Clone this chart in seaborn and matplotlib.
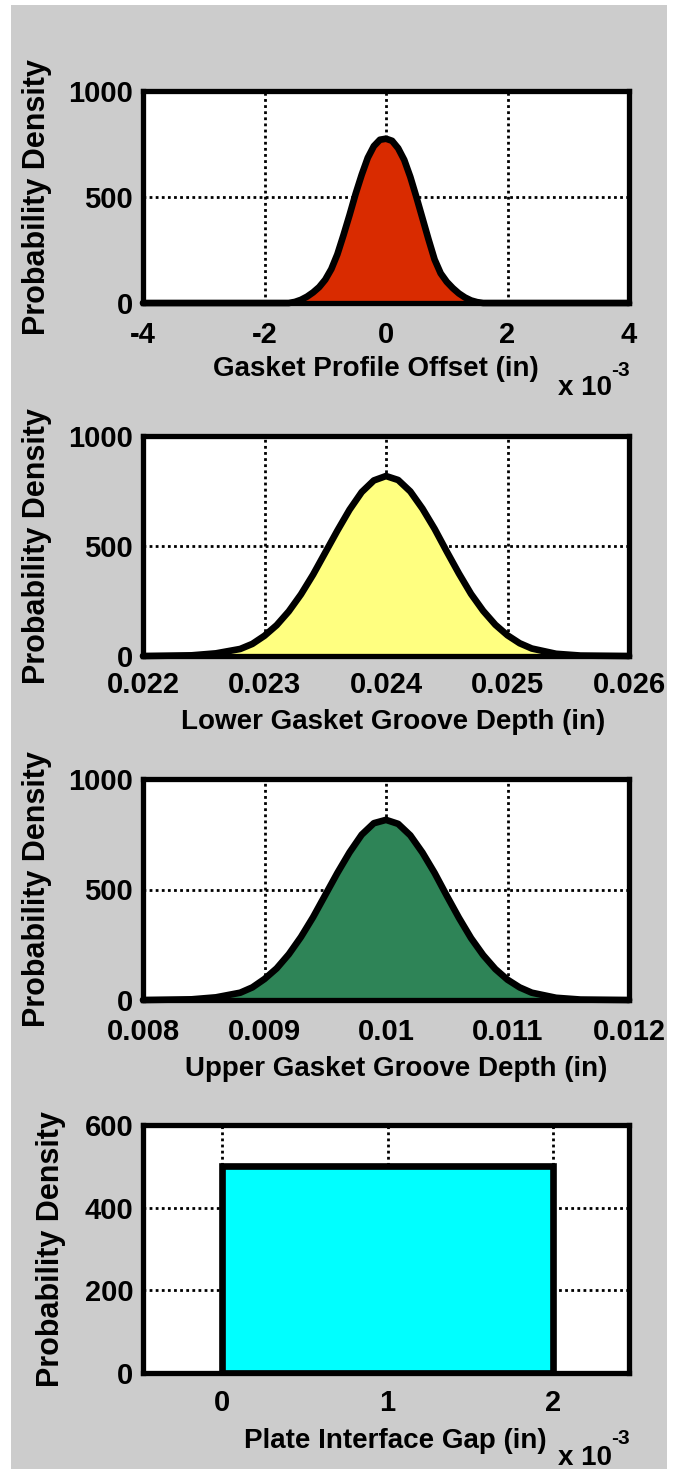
import numpy as np
import pandas as pd
import matplotlib
matplotlib.use("Agg")
import matplotlib.pyplot as plt
import seaborn as sns
from matplotlib.patches import Rectangle

# ---------------- data ----------------
offset_x = [-4.0, -1.6, -1.5, -1.4, -1.3, -1.2, -1.1, -1.0, -0.9, -0.8, -0.7, -0.6, -0.5,
            -0.4, -0.3, -0.2, -0.1, 0.0, 0.1, 0.2, 0.3, 0.4, 0.5, 0.6, 0.7, 0.8, 0.9,
            1.0, 1.1, 1.2, 1.3, 1.4, 1.5, 1.6, 4.0]          # x 10^-3 in
offset_pdf = [0, 0, 5, 15, 30, 50, 75, 110, 160, 230, 320, 415, 515,
              605, 685, 740, 770, 775, 765, 730, 675, 595, 500, 400, 300, 205, 140,
              100, 70, 45, 26, 12, 4, 0, 0]

lower_x = [0.0220, 0.0224, 0.0226, 0.0228, 0.0229, 0.0230, 0.0231, 0.0232, 0.0233, 0.0234,
           0.0235, 0.0236, 0.0237, 0.0238, 0.0239, 0.0240, 0.0241, 0.0242, 0.0243, 0.0244,
           0.0245, 0.0246, 0.0247, 0.0248, 0.0249, 0.0250, 0.0251, 0.0252, 0.0254, 0.0256,
           0.0260]
lower_pdf = [0, 3, 12, 32, 55, 92, 140, 203, 280, 370,
             470, 570, 665, 745, 798, 818, 800, 748, 670, 578,
             475, 375, 282, 205, 142, 94, 58, 34, 10, 2,
             0]

upper_x = [0.0080, 0.0084, 0.0086, 0.0088, 0.0089, 0.0090, 0.0091, 0.0092, 0.0093, 0.0094,
           0.0095, 0.0096, 0.0097, 0.0098, 0.0099, 0.0100, 0.0101, 0.0102, 0.0103, 0.0104,
           0.0105, 0.0106, 0.0107, 0.0108, 0.0109, 0.0110, 0.0111, 0.0112, 0.0114, 0.0116,
           0.0120]
upper_pdf = [0, 3, 12, 33, 57, 95, 143, 207, 285, 375,
             475, 575, 668, 748, 800, 815, 797, 745, 667, 575,
             472, 372, 280, 203, 140, 92, 57, 33, 10, 2,
             0]

gap_left = [0.0]      # x 10^-3 in
gap_width = [2.0]
gap_pdf = [500]

x_labels = ["Gasket Profile Offset (in)", "Lower Gasket Groove Depth (in)",
            "Upper Gasket Groove Depth (in)", "Plate Interface Gap (in)"]
y_label = "Probability Density"
xticks_1 = [-4, -2, 0, 2, 4]
xticks_2 = [0.022, 0.023, 0.024, 0.025, 0.026]
xticklabels_2 = ["0.022", "0.023", "0.024", "0.025", "0.026"]
xticks_3 = [0.008, 0.009, 0.010, 0.011, 0.012]
xticklabels_3 = ["0.008", "0.009", "0.01", "0.011", "0.012"]
xticks_4 = [0, 1, 2]
yticks_a = [0, 500, 1000]
yticks_b = [0, 200, 400, 600]

colors = ["#D92B00", "#FFFF80", "#2E8457", "#00FFFF"]

# ---------------- style ----------------
sns.set_style("white")
plt.rcParams["font.family"] = ["Liberation Sans", "DejaVu Sans"]
plt.rcParams["font.weight"] = "bold"
plt.rcParams["axes.unicode_minus"] = False
plt.rcParams["text.color"] = "black"
plt.rcParams["axes.labelcolor"] = "black"
plt.rcParams["xtick.color"] = "black"
plt.rcParams["ytick.color"] = "black"

W, H = 676, 1469
fig = plt.figure(figsize=(W / 100, H / 100), dpi=100, facecolor="white")
fig.patches.append(Rectangle((11 / W, 0), 656 / W, (H - 5) / H, transform=fig.transFigure,
                             facecolor="#CCCCCC", edgecolor="none", zorder=-10))

L, R = 143, 629
def add_ax(top, bottom):
    return fig.add_axes([L / W, 1 - bottom / H, (R - L) / W, (bottom - top) / H])

ax1 = add_ax(91, 303)
ax2 = add_ax(436, 656)
ax3 = add_ax(779, 1000)
ax4 = add_ax(1125, 1373)

TICK_FS = 21
LAB_FS = 20
YLAB_FS = 22
LW = 4.8

def style(ax, xlim, ylim, xticks, yticks, xticklabels=None, xpad=13):
    ax.set_facecolor("white")
    ax.set_xlim(*xlim)
    ax.set_ylim(*ylim)
    ax.set_xticks(xticks)
    ax.set_yticks(yticks)
    if xticklabels is not None:
        ax.set_xticklabels(xticklabels)
    ax.set_axisbelow(True)
    ax.grid(True, color="black", linestyle=(0, (1, 1.2)), linewidth=2.0)
    for s in ax.spines.values():
        s.set_visible(True)
        s.set_color("black")
        s.set_linewidth(3.8)
        s.set_zorder(5)
    ax.tick_params(axis="x", length=0, pad=xpad, labelsize=TICK_FS, labelcolor="black")
    ax.tick_params(axis="y", length=0, pad=7, labelsize=TICK_FS, labelcolor="black")
    for t in ax.get_xticklabels() + ax.get_yticklabels():
        t.set_fontweight("bold")

def density(ax, xs, ys, color):
    ax.fill_between(xs, ys, 0, color=color, linewidth=0, zorder=1)
    sns.lineplot(x=xs, y=ys, ax=ax, color="black", linewidth=LW, sort=False,
                 solid_joinstyle="round", solid_capstyle="round", zorder=2, clip_on=False)

density(ax1, offset_x, offset_pdf, colors[0])
style(ax1, (-4, 4), (0, 1000), xticks_1, yticks_a, xpad=13)

density(ax2, lower_x, lower_pdf, colors[1])
style(ax2, (0.022, 0.026), (0, 1000), xticks_2, yticks_a, xticklabels_2, xpad=10.5)

density(ax3, upper_x, upper_pdf, colors[2])
style(ax3, (0.008, 0.012), (0, 1000), xticks_3, yticks_a, xticklabels_3, xpad=13)

ax4.bar(gap_left, gap_pdf, width=gap_width, align="edge", color=colors[3],
        edgecolor="black", linewidth=LW, zorder=2)
style(ax4, (-0.48, 2.46), (0, 600), xticks_4, yticks_b, xpad=11.5)

# axis labels
label_pos = [  # (xlabel center x, xlabel top y, ylabel right x) in axes coords
    (ax1, 0.479, -0.252, -0.188),
    (ax2, 0.515, -0.243, -0.188),
    (ax3, 0.52, -0.255, -0.188),
    (ax4, 0.52, -0.22, -0.158),
]
for (ax, xc, yt, yr), lab in zip(label_pos, x_labels):
    ax.set_xlabel(lab, fontsize=LAB_FS, fontweight="bold", color="black")
    ax.xaxis.set_label_coords(xc, yt)
    ax.set_ylabel(y_label, fontsize=YLAB_FS, fontweight="bold", color="black")
    ax.yaxis.set_label_coords(yr, 0.5)

# "x 10^-3" multipliers
for base_y, sup_y in [(395, 376), (1465, 1444)]:
    fig.text(558 / W, 1 - base_y / H, "x 10", ha="left", va="baseline",
             fontsize=20, fontweight="bold", color="black")
    fig.text(611 / W, 1 - sup_y / H, "-3", ha="left", va="baseline",
             fontsize=15, fontweight="bold", color="black")

fig.savefig("out.png", dpi=100, facecolor="white")
